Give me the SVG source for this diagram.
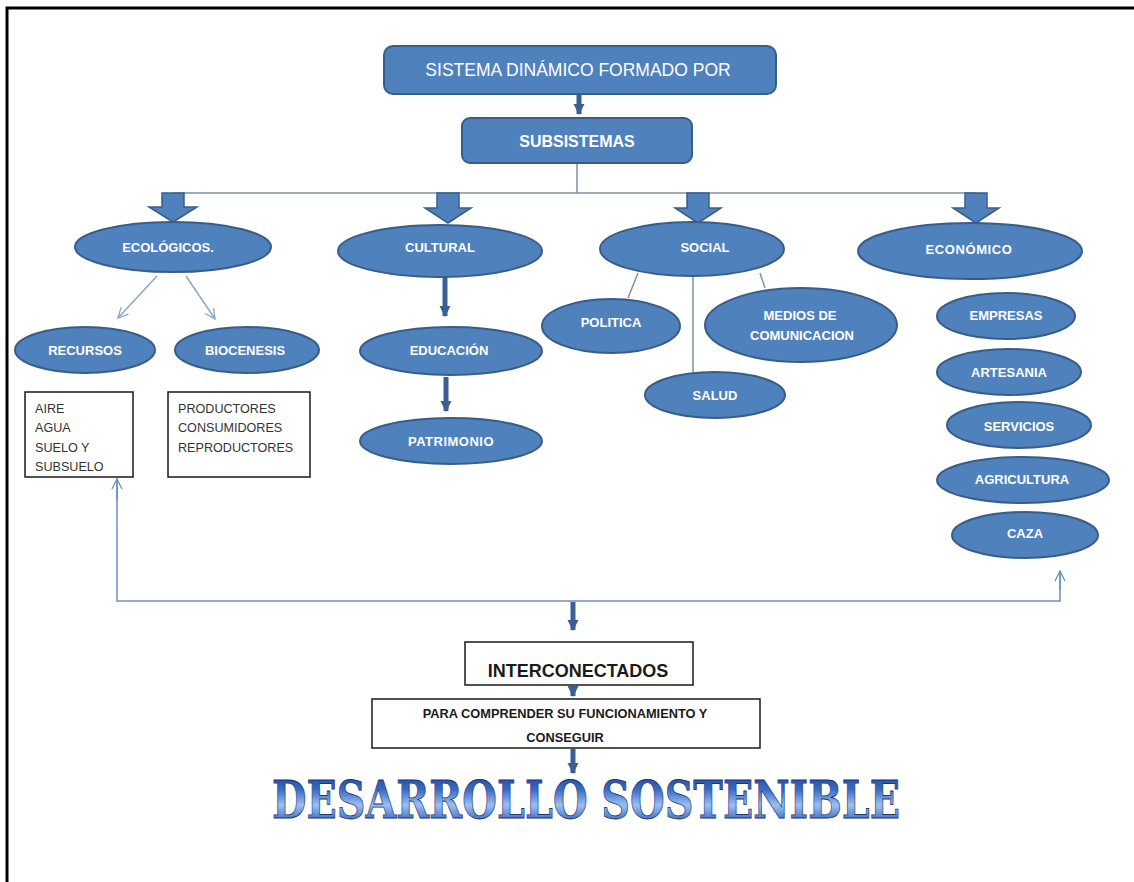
<svg xmlns="http://www.w3.org/2000/svg" width="1134" height="882" viewBox="0 0 1134 882">
<defs>
<style>
.nd{fill:#4F81BD;stroke:#385D8A;stroke-width:2}
.lb{font-family:"Liberation Sans",Arial,sans-serif;font-weight:bold;font-size:13px;fill:#ffffff;text-anchor:middle}
.bx{fill:#ffffff;stroke:#1a1a1a;stroke-width:1.5}
.bt{font-family:"Liberation Sans",Arial,sans-serif;font-size:12.6px;fill:#333333}
.ln{fill:none;stroke:#7F90A8;stroke-width:1.5}
.lb2{fill:none;stroke:#6F8FBF;stroke-width:1.5}
.th{fill:none;stroke:#3A5F93;stroke-width:5}
.blk{fill:#4F81BD;stroke:#385D8A;stroke-width:1.5}
</style>
<marker id="hd" viewBox="0 0 10 10" refX="9" refY="5" markerWidth="2.2" markerHeight="2.4" orient="auto" markerUnits="strokeWidth">
<path d="M0,0 L10,5 L0,10 Z" fill="#3A5F93"/>
</marker>
<marker id="op" viewBox="0 0 12 12" refX="11" refY="6" markerWidth="8" markerHeight="8" orient="auto" markerUnits="strokeWidth">
<path d="M1,1 L11,6 L1,11" fill="none" stroke="#8EA6C6" stroke-width="1.3"/>
</marker>
<marker id="op2" viewBox="0 0 12 12" refX="11" refY="6" markerWidth="8" markerHeight="8" orient="auto" markerUnits="strokeWidth">
<path d="M1,1 L11,6 L1,11" fill="none" stroke="#6F8FBF" stroke-width="1.3"/>
</marker>
<linearGradient id="tg" x1="0" y1="0" x2="0" y2="1">
<stop offset="0" stop-color="#1C3A8A"/>
<stop offset="0.35" stop-color="#3A6CC4"/>
<stop offset="0.6" stop-color="#9CC0F2"/>
<stop offset="0.85" stop-color="#3D6DC0"/>
<stop offset="1" stop-color="#1E459A"/>
</linearGradient>
</defs>
<rect x="0" y="0" width="1134" height="882" fill="#ffffff"/>
<path d="M7,882 L7,8 L1134,8" fill="none" stroke="#000000" stroke-width="3"/>

<g id="connectors">
<line class="th" x1="579" y1="94" x2="579" y2="114" marker-end="url(#hd)"/>
<line class="ln" x1="577" y1="163" x2="577" y2="193"/>
<line class="ln" x1="173" y1="193" x2="977" y2="193"/>
<path class="blk" d="M162,193 L184,193 L184,207 L197,207 L173,222 L149,207 L162,207 Z"/>
<path class="blk" d="M437,193 L459,193 L459,208 L471,208 L448,223 L425,208 L437,208 Z"/>
<path class="blk" d="M687,193 L709,193 L709,208 L721,208 L698,223 L675,208 L687,208 Z"/>
<path class="blk" d="M965,193 L987,193 L987,208 L999,208 L976,223 L953,208 L965,208 Z"/>
<line x1="157" y1="276" x2="118" y2="318" stroke="#8EA6C6" stroke-width="1.5" marker-end="url(#op)"/>
<line x1="186" y1="276" x2="215" y2="319" stroke="#8EA6C6" stroke-width="1.5" marker-end="url(#op)"/>
<line class="th" x1="445" y1="277" x2="445" y2="316" marker-end="url(#hd)"/>
<line class="th" x1="446" y1="377" x2="446" y2="411" marker-end="url(#hd)"/>
<line class="ln" x1="638" y1="273" x2="628" y2="298"/>
<line class="ln" x1="693" y1="277" x2="693" y2="373"/>
<line class="ln" x1="760" y1="273" x2="765" y2="288"/>
<path class="lb2" d="M117,478 L117,601 L1060,601 L1060,571"/>
<line class="lb2" x1="117" y1="500" x2="117" y2="479" marker-end="url(#op2)"/>
<line class="lb2" x1="1060" y1="590" x2="1060" y2="571" marker-end="url(#op2)"/>
<line class="th" x1="573" y1="602" x2="573" y2="630" marker-end="url(#hd)"/>
<line class="th" x1="573" y1="686" x2="573" y2="696" marker-end="url(#hd)"/>
<line class="th" x1="573" y1="749" x2="573" y2="773" marker-end="url(#hd)"/>
</g>

<g id="sistema">
<rect class="nd" x="384" y="46" width="392" height="48" rx="9"/>
<text x="578" y="76" font-family="'Liberation Sans',Arial,sans-serif" font-size="17.5" fill="#ffffff" text-anchor="middle">SISTEMA DINÁMICO FORMADO POR</text>
</g>
<g id="subsistemas">
<rect class="nd" x="462" y="118" width="230" height="45" rx="8"/>
<text x="577" y="147" font-family="'Liberation Sans',Arial,sans-serif" font-size="16" font-weight="bold" fill="#ffffff" text-anchor="middle">SUBSISTEMAS</text>
</g>

<g id="ecologicos"><ellipse class="nd" cx="173" cy="247" rx="98" ry="25"/><text class="lb" x="168" y="252">ECOLÓGICOS.</text></g>
<g id="cultural"><ellipse class="nd" cx="440" cy="251" rx="102" ry="26"/><text class="lb" x="440" y="252">CULTURAL</text></g>
<g id="social"><ellipse class="nd" cx="692" cy="249" rx="92" ry="27"/><text class="lb" x="705" y="252">SOCIAL</text></g>
<g id="economico"><ellipse class="nd" cx="970" cy="251" rx="112" ry="28"/><text class="lb" x="969" y="254" letter-spacing="0.6">ECONÓMICO</text></g>

<g id="recursos"><ellipse class="nd" cx="85" cy="350" rx="70" ry="23"/><text class="lb" x="85" y="355">RECURSOS</text></g>
<g id="biocenesis"><ellipse class="nd" cx="247" cy="350" rx="72" ry="23"/><text class="lb" x="245" y="355">BIOCENESIS</text></g>

<g id="recursos-lista">
<rect class="bx" x="25" y="392" width="108" height="85"/>
<text class="bt" x="35" y="412.5">AIRE</text>
<text class="bt" x="35" y="432">AGUA</text>
<text class="bt" x="35" y="451.5">SUELO Y</text>
<text class="bt" x="35" y="471">SUBSUELO</text>
</g>
<g id="biocenesis-lista">
<rect class="bx" x="168" y="392" width="142" height="85"/>
<text class="bt" x="178" y="412.5">PRODUCTORES</text>
<text class="bt" x="178" y="432">CONSUMIDORES</text>
<text class="bt" x="178" y="451.5">REPRODUCTORES</text>
</g>

<g id="educacion"><ellipse class="nd" cx="451" cy="351" rx="91" ry="24"/><text class="lb" x="449" y="355">EDUCACIÓN</text></g>
<g id="patrimonio"><ellipse class="nd" cx="451" cy="441" rx="91" ry="23"/><text class="lb" x="451" y="446" letter-spacing="0.5">PATRIMONIO</text></g>

<g id="politica"><ellipse class="nd" cx="611" cy="326" rx="69" ry="27"/><text class="lb" x="611" y="327">POLITICA</text></g>
<g id="medios"><ellipse class="nd" cx="801" cy="325" rx="96" ry="37"/><text class="lb" x="800" y="320">MEDIOS DE</text><text class="lb" x="802" y="340">COMUNICACION</text></g>
<g id="salud"><ellipse class="nd" cx="715" cy="395" rx="70" ry="23"/><text class="lb" x="715" y="400">SALUD</text></g>

<g id="empresas"><ellipse class="nd" cx="1006" cy="316" rx="69" ry="23"/><text class="lb" x="1006" y="320">EMPRESAS</text></g>
<g id="artesania"><ellipse class="nd" cx="1009" cy="372" rx="72" ry="23"/><text class="lb" x="1009" y="377">ARTESANIA</text></g>
<g id="servicios"><ellipse class="nd" cx="1019" cy="425" rx="72" ry="23"/><text class="lb" x="1019" y="431">SERVICIOS</text></g>
<g id="agricultura"><ellipse class="nd" cx="1023" cy="480" rx="86" ry="23"/><text class="lb" x="1022" y="484">AGRICULTURA</text></g>
<g id="caza"><ellipse class="nd" cx="1025" cy="535" rx="73" ry="23"/><text class="lb" x="1025" y="538">CAZA</text></g>

<g id="interconectados">
<rect class="bx" x="465" y="642" width="228" height="43"/>
<text x="578" y="677" font-family="'Liberation Sans',Arial,sans-serif" font-size="18" font-weight="bold" fill="#1a1a1a" text-anchor="middle">INTERCONECTADOS</text>
</g>
<g id="comprender">
<rect class="bx" x="372" y="699" width="388" height="49"/>
<text x="565" y="718" font-family="'Liberation Sans',Arial,sans-serif" font-size="12.8" font-weight="bold" fill="#1a1a1a" text-anchor="middle">PARA COMPRENDER SU FUNCIONAMIENTO Y</text>
<text x="565" y="742" font-family="'Liberation Sans',Arial,sans-serif" font-size="12.8" font-weight="bold" fill="#1a1a1a" text-anchor="middle">CONSEGUIR</text>
</g>
<g id="desarrollo">
<text x="272" y="818" font-family="'DejaVu Serif','Liberation Serif',serif" font-size="53" font-weight="bold" fill="url(#tg)" stroke="#1A3570" stroke-width="0.8" textLength="628" lengthAdjust="spacingAndGlyphs">DESARROLLO SOSTENIBLE</text>
</g>
</svg>
